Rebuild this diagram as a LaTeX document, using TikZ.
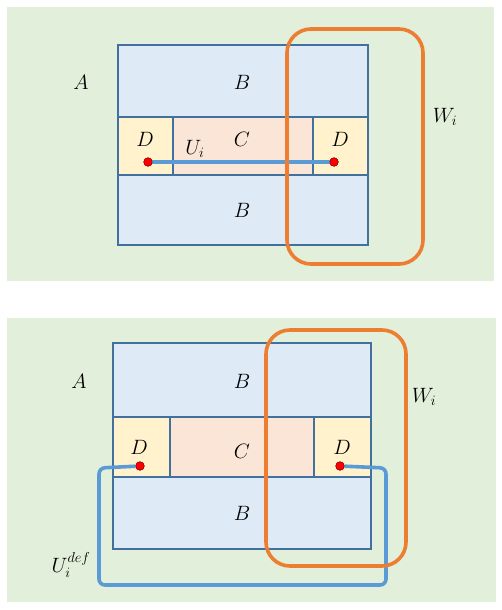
\documentclass[tikz,border=0pt]{standalone}
\usepackage{amsmath}
\usetikzlibrary{calc}
\definecolor{green1}{RGB}{226, 239, 218}
\definecolor{blue1}{RGB}{222, 235, 247}
\definecolor{blue2}{RGB}{65, 113, 156}
\definecolor{blue3}{RGB}{91, 155, 213}
\definecolor{yellow1}{RGB}{255, 242, 204}
\definecolor{red2}{RGB}{251, 229, 214}
\definecolor{orange1}{RGB}{237, 125, 49}
\tikzset{
  cell/.style={draw=blue2, line width=1.6pt},
  win/.style={draw=orange1, line width=3.6pt, rounded corners=24pt},
  path1/.style={draw=blue3, line width=3.6pt},
  dot/.style={circle, fill=red, draw=red!50!black, line width=0.4pt, inner sep=0pt, minimum size=8.5pt},
  lab/.style={font=\huge, inner sep=0pt}
}
\begin{document}
\begin{tikzpicture}[x=1pt, y=-1pt]
 \useasboundingbox (0,0) rectangle (502,610);
  % top picture
  \fill[green1] (6.5,7) rectangle (494,281);
  \filldraw[cell, fill=blue1] (118,45) rectangle (368,117);
  \filldraw[cell, fill=yellow1] (118,117) rectangle (173,175);
  \filldraw[cell, fill=red2] (173,117) rectangle (313,175);
  \filldraw[cell, fill=yellow1] (313,117) rectangle (368,175);
  \filldraw[cell, fill=blue1] (118,175) rectangle (368,245);
  \node[lab] (a1) at (81,82) {$A$};
  \node[lab] (b1) at (242,82) {$B$};
  \node[lab] (c1) at (242,139) {$C$};
  \node[lab] (d1) at (145,139) {$D$};
  \node[lab] (d2) at (340,139) {$D$};
  \node[lab] (b2) at (242,210) {$B$};
  \node[lab] (u1) at (195,149) {$U_i$};
  \node[lab] (w1) at (445,117) {$W_i$};
  \node[dot] (p1) at (148,162) {};
  \node[dot] (p2) at (334,162) {};
  \foreach \from/\to in {p1/p2}
   \draw[path1] (\from) -- (\to);
  \node[dot] at (p1) {};
  \node[dot] at (p2) {};
  \draw[win] (287,29) rectangle (423,264);

  % bottom picture
  \fill[green1] (6.5,318) rectangle (496,602);
  \filldraw[cell, fill=blue1] (113,343) rectangle (371,417);
  \filldraw[cell, fill=yellow1] (113,417) rectangle (170,477);
  \filldraw[cell, fill=red2] (170,417) rectangle (314,477);
  \filldraw[cell, fill=yellow1] (314,417) rectangle (371,477);
  \filldraw[cell, fill=blue1] (113,477) rectangle (371,549);
  \node[lab] (a2) at (79,381) {$A$};
  \node[lab] (b3) at (242,381) {$B$};
  \node[lab] (c2) at (242,451) {$C$};
  \node[lab] (d3) at (139,447) {$D$};
  \node[lab] (d4) at (342,447) {$D$};
  \node[lab] (b4) at (242,513) {$B$};
  \node[lab] (w2) at (424,397) {$W_i$};
  \node[lab] (u2) at (71,565) {$U_i^{def}$};
  \node[dot] (p3) at (140,466) {};
  \node[dot] (p4) at (340,466) {};
  \coordinate (q1) at (99,468);
  \coordinate (q2) at (99,585);
  \coordinate (q3) at (386,585);
  \coordinate (q4) at (386,468);
  \draw[path1, rounded corners=6pt] (p3) -- (q1) -- (q2) -- (q3) -- (q4) -- (p4);
  \node[dot] at (p3) {};
  \node[dot] at (p4) {};
  \draw[win] (266,330) rectangle (406,566);
\end{tikzpicture}
\end{document}
